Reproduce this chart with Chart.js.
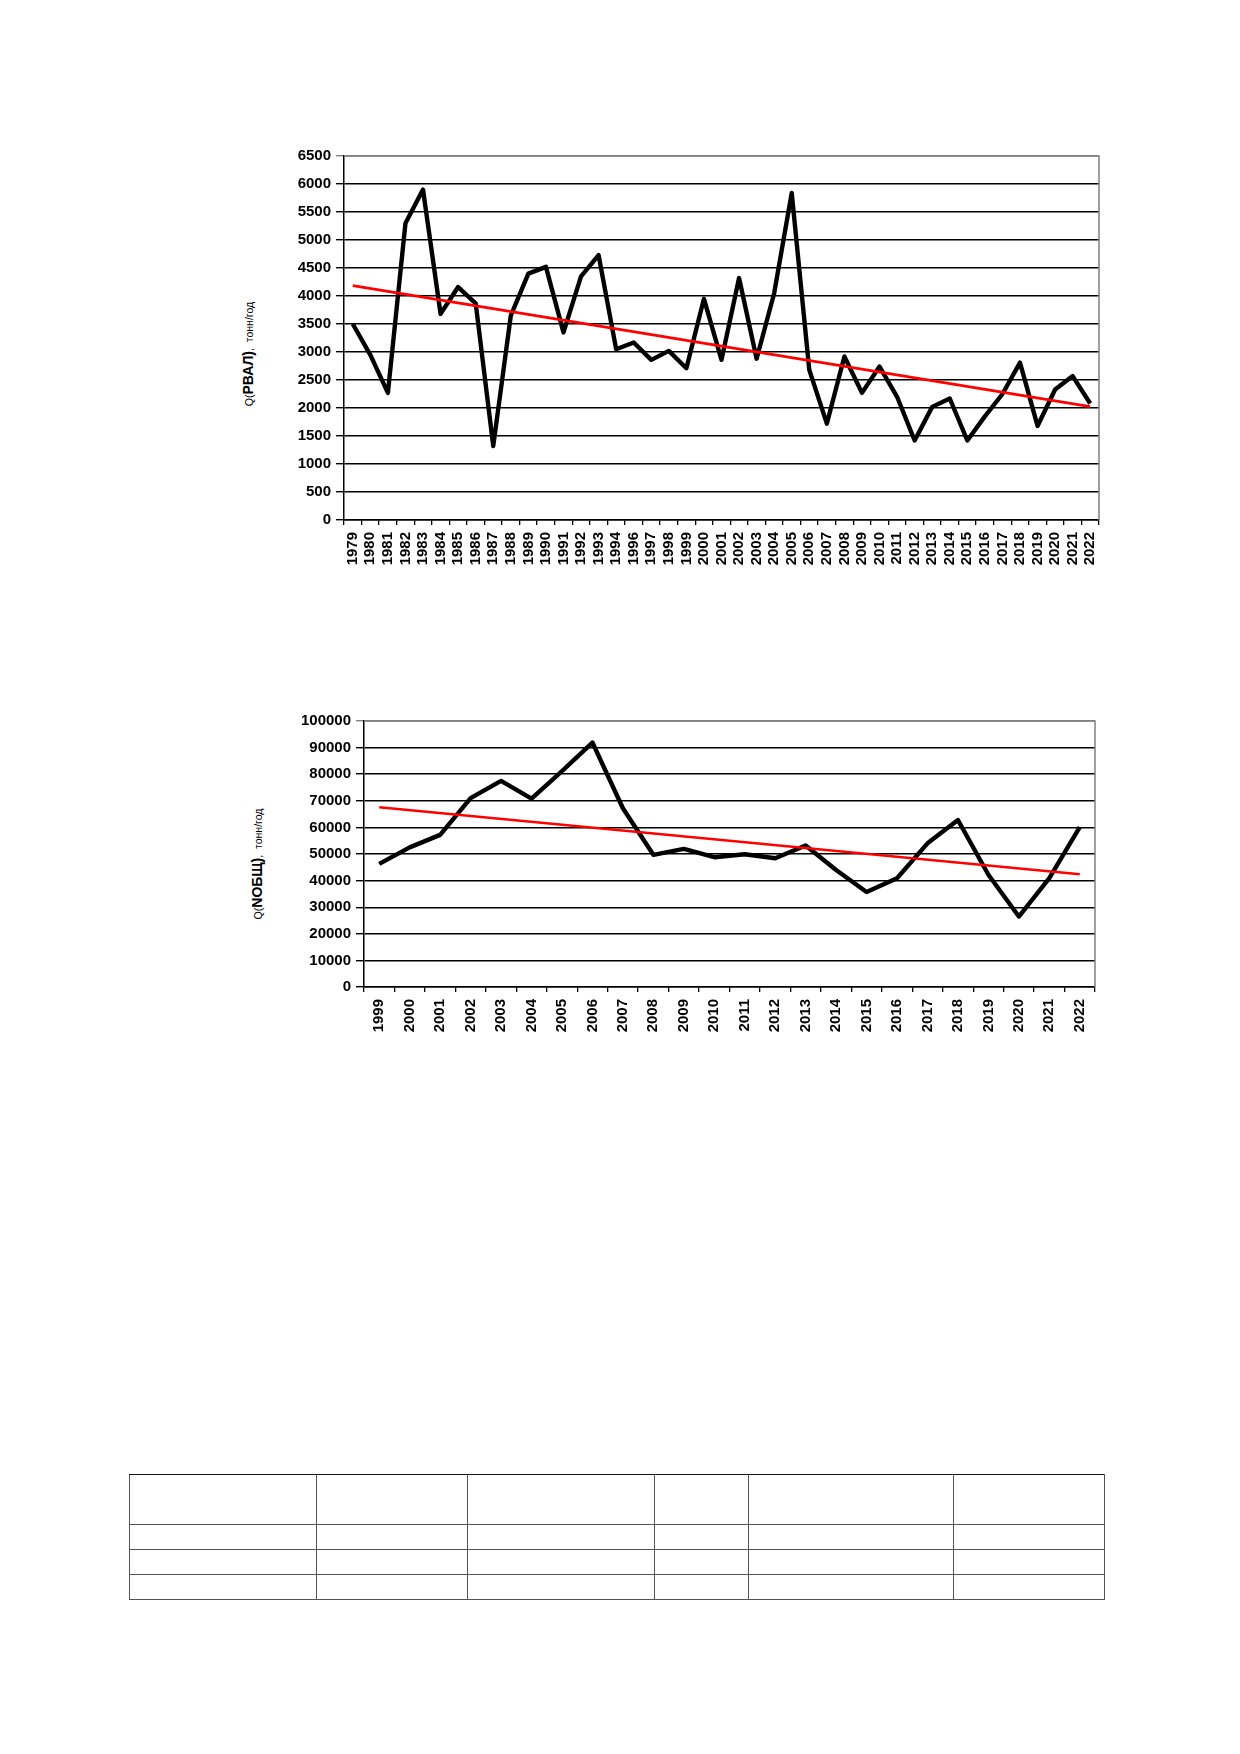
<!DOCTYPE html>
<html lang="ru">
<head>
<meta charset="utf-8">
<title>Q(PВАЛ), Q(NОБЩ)</title>
<script src="https://cdn.jsdelivr.net/npm/chart.js@4.4.1/dist/chart.umd.min.js"></script>
<style>
  html, body { margin: 0; padding: 0; background: #fff; }
  #page { position: relative; width: 1240px; height: 1754px; overflow: hidden; font-family: "Liberation Sans", Arial, sans-serif; }
  canvas { position: absolute; }
  .ytitle { position: absolute; white-space: nowrap; transform: translate(-50%, -50%) rotate(-90deg); color: #000; }
  .ytitle .s { font-size: 10.5px; }
  .ytitle .b { font-size: 14px; font-weight: bold; }
  table.blank { position: absolute; left: 129px; top: 1474px; width: 975px; table-layout: fixed; border-collapse: collapse; }
  table.blank td { border: 1.5px solid #555; padding: 0; }
  table.blank tr:first-child td { border-top-color: #111; }
</style>
</head>
<body>
<div id="page">
  <canvas id="chartP" width="850" height="440" style="left:270px; top:140px;"></canvas>
  <div class="ytitle" style="left:248px; top:354px;"><span class="s">Q(</span><span class="b">PВАЛ)</span><span class="s">,&nbsp; тонн/год</span></div>

  <canvas id="chartN" width="850" height="347" style="left:270px; top:700px;"></canvas>
  <div class="ytitle" style="left:257px; top:864px;"><span class="s">Q(</span><span class="b">NОБЩ)</span><span class="s">,&nbsp; тонн/год</span></div>

  <table class="blank">
    <colgroup><col style="width:187px"><col style="width:151px"><col style="width:187px"><col style="width:94px"><col style="width:205px"><col style="width:151px"></colgroup>
    <tr style="height:50px"><td></td><td></td><td></td><td></td><td></td><td></td></tr>
    <tr style="height:25px"><td></td><td></td><td></td><td></td><td></td><td></td></tr>
    <tr style="height:25px"><td></td><td></td><td></td><td></td><td></td><td></td></tr>
    <tr style="height:25px"><td></td><td></td><td></td><td></td><td></td><td></td></tr>
  </table>
</div>

<script>
// годы первого графика (1995 в ряду нет)
const yearsP = ['1979', '1980', '1981', '1982', '1983', '1984', '1985', '1986', '1987', '1988',
  '1989', '1990', '1991', '1992', '1993', '1994', '1996', '1997', '1998', '1999', '2000',
  '2001', '2002', '2003', '2004', '2005', '2006', '2007', '2008', '2009', '2010', '2011',
  '2012', '2013', '2014', '2015', '2016', '2017', '2018', '2019', '2020', '2021', '2022'];
// Q(PВАЛ), тонн/год
const valuesP = [3500, 2950, 2270, 5300, 5900, 3680, 4160, 3870, 1320, 3650,
  4400, 4520, 3350, 4350, 4730, 3050, 3170, 2860, 3020, 2710, 3950,
  2860, 4320, 2880, 4050, 5840, 2680, 1720, 2920, 2270, 2740, 2200,
  1420, 2020, 2170, 1420, 1850, 2250, 2810, 1680, 2330, 2570, 2080];
// линия тренда: значения на первом и последнем году
const trendP = [4185, 2025];
const yTicksP = { min: 0, max: 6500, step: 500 };

// второй график
const yearsN = ['1999', '2000', '2001', '2002', '2003', '2004', '2005', '2006', '2007', '2008',
  '2009', '2010', '2011', '2012', '2013', '2014', '2015', '2016', '2017', '2018', '2019',
  '2020', '2021', '2022'];
// Q(NОБЩ), тонн/год
const valuesN = [46300, 52500, 57200, 71000, 77500, 70800, 81200, 91900, 67200, 49700,
  51900, 48800, 49900, 48400, 53200, 44000, 35700, 40900, 54000, 62800, 42200,
  26500, 40900, 60100];
const trendN = [67600, 42400];
const yTicksN = { min: 0, max: 100000, step: 10000 };

const tickFont = { family: '"Liberation Sans", Arial, sans-serif', size: 15, weight: 'bold' };

// серая рамка сверху и справа, как в Excel
const framePlugin = {
  id: 'frame',
  afterDraw(chart) {
    const { ctx, chartArea: a } = chart;
    ctx.save();
    ctx.strokeStyle = '#808080';
    ctx.lineWidth = 1.5;
    ctx.beginPath();
    ctx.moveTo(a.left, a.top);
    ctx.lineTo(a.right, a.top);
    ctx.lineTo(a.right, a.bottom);
    ctx.stroke();
    ctx.restore();
  }
};

function makeChart(id, labels, values, trend, yt, yWidth, pad) {
  const last = labels.length - 1;
  return new Chart(document.getElementById(id), {
    type: 'line',
    data: {
      labels: labels,
      datasets: [{
        data: values,
        borderColor: '#000',
        borderWidth: 4.4,
        borderJoinStyle: 'round',
        pointRadius: 0,
        tension: 0,
        order: 2
      }, {
        data: [{ x: labels[0], y: trend[0] }, { x: labels[last], y: trend[1] }],
        borderColor: '#ff0000',
        borderWidth: 2.6,
        pointRadius: 0,
        tension: 0,
        order: 1
      }]
    },
    options: {
      responsive: false,
      animation: false,
      events: [],
      layout: { padding: pad },
      plugins: { legend: { display: false }, tooltip: { enabled: false } },
      scales: {
        x: {
          type: 'category',
          offset: true,
          grid: { offset: true, drawOnChartArea: false, tickLength: 5, color: '#000', lineWidth: 1.3 },
          border: { color: '#000', width: 1.5 },
          ticks: { autoSkip: false, minRotation: 90, maxRotation: 90, padding: 7, color: '#000', font: tickFont },
          afterFit(scale) { scale.height = 60; }
        },
        y: {
          min: yt.min,
          max: yt.max,
          grid: {
            tickLength: 8,
            lineWidth: 1.4,
            color: c => (c.tick && c.tick.value === yt.max ? '#808080' : '#000')
          },
          border: { color: '#000', width: 1.5 },
          ticks: {
            stepSize: yt.step,
            padding: 5,
            color: '#000',
            font: tickFont,
            callback: v => String(v)
          },
          afterFit(scale) { scale.width = yWidth; }
        }
      }
    },
    plugins: [framePlugin]
  });
}

makeChart('chartP', yearsP, valuesP, trendP, yTicksP, 74, { top: 16, right: 21, left: 0, bottom: 0 });
makeChart('chartN', yearsN, valuesN, trendN, yTicksN, 94, { top: 21, right: 25, left: 0, bottom: 0 });
</script>
</body>
</html>
